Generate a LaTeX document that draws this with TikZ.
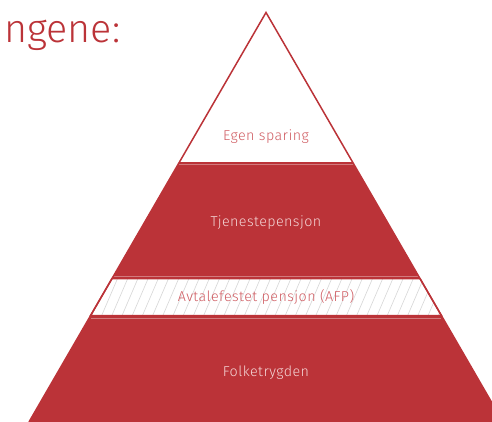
\documentclass[tikz,border=0pt]{standalone}
\usepackage{fontspec}
\setmainfont{Fira Sans Light}[LetterSpace=3]
\newfontfamily\titlefont{Fira Sans Light}
\definecolor{pred}{RGB}{187,51,56}
\definecolor{plight}{RGB}{244,214,214}
\definecolor{ptext}{RGB}{208,92,98}
\definecolor{phatch}{RGB}{215,215,215}
\begin{document}
\begin{tikzpicture}[x=1pt,y=-1pt,
  band/.style={fill=pred,draw=none},
  edge/.style={draw=pred,line width=1.5pt,line join=miter},
  seam/.style={draw=white,opacity=0.35,line width=0.8pt},
  lab/.style={font=\fontsize{14.3}{16}\selectfont,inner sep=0pt,anchor=center},
  onred/.style={lab,text=plight},
  onwhite/.style={lab,text=ptext}]
\useasboundingbox (0,0) rectangle (492,422);
\clip (0,0) rectangle (492,422);
% title fragment
\node[anchor=base west,inner sep=0pt,text=pred,font=\titlefont\fontsize{39.5}{44}\selectfont] (title) at (4,43) {ngene:};
% Folketrygden
\path[band] (90.6,315.5) -- (441.4,315.5) -- (503,422) -- (29,422) -- cycle;
\draw[seam] (91,318.3) -- (441,318.3);
% Tjenestepensjon
\path[band] (179.2,162.5) -- (352.8,162.5) -- (420,278.5) -- (112,278.5) -- cycle;
\draw[seam] (178,164.6) -- (354,164.6);
\draw[seam] (112,276.6) -- (420,276.6);
% AFP band
\path[fill=white] (112,278.5) -- (420,278.5) -- (441.4,315.5) -- (90.6,315.5) -- cycle;
\begin{scope}
\clip (112,278.5) -- (420,278.5) -- (441.4,315.5) -- (90.6,315.5) -- cycle;
\foreach \i in {0,...,40} {
  \draw[phatch,line width=0.6pt] (70+\i*10.2,318) -- (88+\i*10.2,276);
}
\end{scope}
\draw[edge] (112,278.5) -- (420,278.5) -- (441.4,315.5) -- (90.6,315.5) -- cycle;
% Egen sparing
\path[fill=white] (266,12.5) -- (352.8,162.5) -- (179.2,162.5) -- cycle;
% outer outline
\draw[edge] (29,422) -- (266,12.5) -- (503,422);
\draw[pred,line width=1.2pt] (179.2,162.5) -- (352.8,162.5);
% labels
\node[onwhite] (egen) at (266,137) {Egen sparing};
\node[onred] (tjen) at (266,222.5) {Tjenestepensjon};
\node[onwhite] (afp) at (266,296.5) {Avtalefestet pensjon (AFP)};
\node[onred] (folk) at (266,372.5) {Folketrygden};
\end{tikzpicture}
\end{document}
